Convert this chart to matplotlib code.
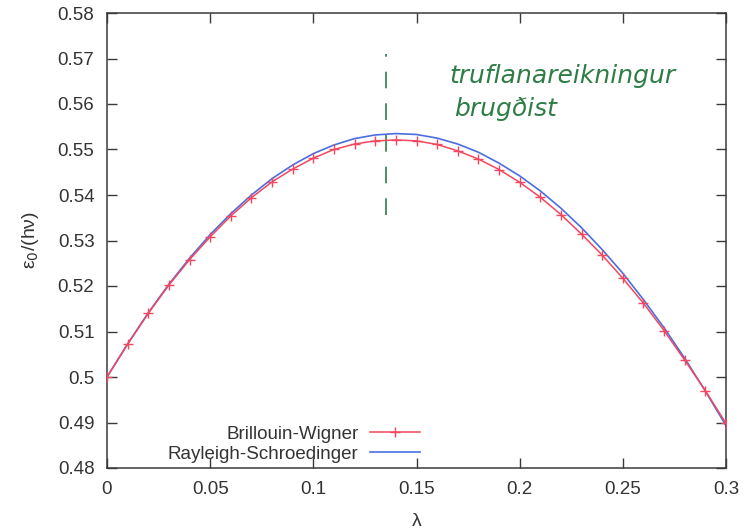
import matplotlib
matplotlib.use("Agg")
import matplotlib.pyplot as plt

lam = [0.00, 0.01, 0.02, 0.03, 0.04, 0.05, 0.06, 0.07, 0.08, 0.09, 0.10,
       0.11, 0.12, 0.13, 0.14, 0.15, 0.16, 0.17, 0.18, 0.19, 0.20,
       0.21, 0.22, 0.23, 0.24, 0.25, 0.26, 0.27, 0.28, 0.29, 0.30]
bw = [0.5000, 0.5072, 0.5140, 0.5202, 0.5258, 0.5308, 0.5354, 0.5394, 0.5429,
      0.5457, 0.5481, 0.5500, 0.5512, 0.5519, 0.5521, 0.5519, 0.5511, 0.5497,
      0.5479, 0.5456, 0.5428, 0.5395, 0.5357, 0.5314, 0.5268, 0.5217, 0.5162,
      0.5102, 0.5037, 0.4970, 0.4898]
rs = [0.5000, 0.5073, 0.5141, 0.5204, 0.5261, 0.5313, 0.5359, 0.5400, 0.5436,
      0.5466, 0.5491, 0.5510, 0.5524, 0.5532, 0.5535, 0.5533, 0.5525, 0.5512,
      0.5494, 0.5470, 0.5442, 0.5409, 0.5371, 0.5328, 0.5280, 0.5228, 0.5170,
      0.5108, 0.5041, 0.4969, 0.4893]
xticks = [0, 0.05, 0.1, 0.15, 0.2, 0.25, 0.3]
xticklabels = ["0", "0.05", "0.1", "0.15", "0.2", "0.25", "0.3"]
yticks = [0.48, 0.49, 0.5, 0.51, 0.52, 0.53, 0.54, 0.55, 0.56, 0.57, 0.58]
yticklabels = ["0.48", "0.49", "0.5", "0.51", "0.52", "0.53", "0.54", "0.55", "0.56", "0.57", "0.58"]
note_x = 0.135
note_y = [0.5355, 0.571]

plt.rcParams['font.family'] = ['Liberation Sans', 'DejaVu Sans']
fig = plt.figure(figsize=(7.47, 5.29), dpi=100)
ax = fig.add_axes([107/747, 1-468/529, (726-107)/747, (468-13)/529])

axcol = '#3a3a3a'
ax.plot(lam, bw, color='#f2475f', lw=1.1, marker='+', ms=7, mew=1.0,
        label='Brillouin-Wigner', zorder=3)
ax.plot(lam, rs, color='#4a6ee0', lw=1.2, label='Rayleigh-Schroedinger', zorder=2)

ax.plot([note_x, note_x], note_y, color='#2e7d46', lw=1.2,
        dashes=(10, 9), zorder=1)
ax.text(0.166, 0.5662, 'truflanareikningur', color='#2e7d46', fontsize=18,
        style='italic', family=['DejaVu Sans'], va='center')
ax.text(0.168, 0.5588, 'brugðist', color='#2e7d46', fontsize=18,
        style='italic', family=['DejaVu Sans'], va='center')

ax.set_xlim(0, 0.3)
ax.set_ylim(0.48, 0.58)
ax.set_xticks(xticks)
ax.set_xticklabels(xticklabels)
ax.set_yticks(yticks)
ax.set_yticklabels(yticklabels)
ax.tick_params(direction='in', length=7, width=1, colors=axcol, labelcolor='#333333',
               labelsize=13.5, top=True, right=True, pad=9)
for s in ax.spines.values():
    s.set_color(axcol)
    s.set_linewidth(1.1)

ax.set_xlabel('λ', fontsize=14, color='#333333', labelpad=11)
ax.set_ylabel('ε$_0$/(hν)', fontsize=14, color='#333333', labelpad=12)

leg = ax.legend(loc='lower left', bbox_to_anchor=(0.08, -0.013), frameon=False,
                markerfirst=False, fontsize=13.5, handlelength=2.7,
                labelspacing=0.15, handletextpad=0.6, borderaxespad=0.2)
for t in leg.get_texts():
    t.set_color('#333333')
    t.set_ha('right')
leg._legend_box.align = 'right'

fig.savefig('out.png', dpi=100, facecolor='white')
